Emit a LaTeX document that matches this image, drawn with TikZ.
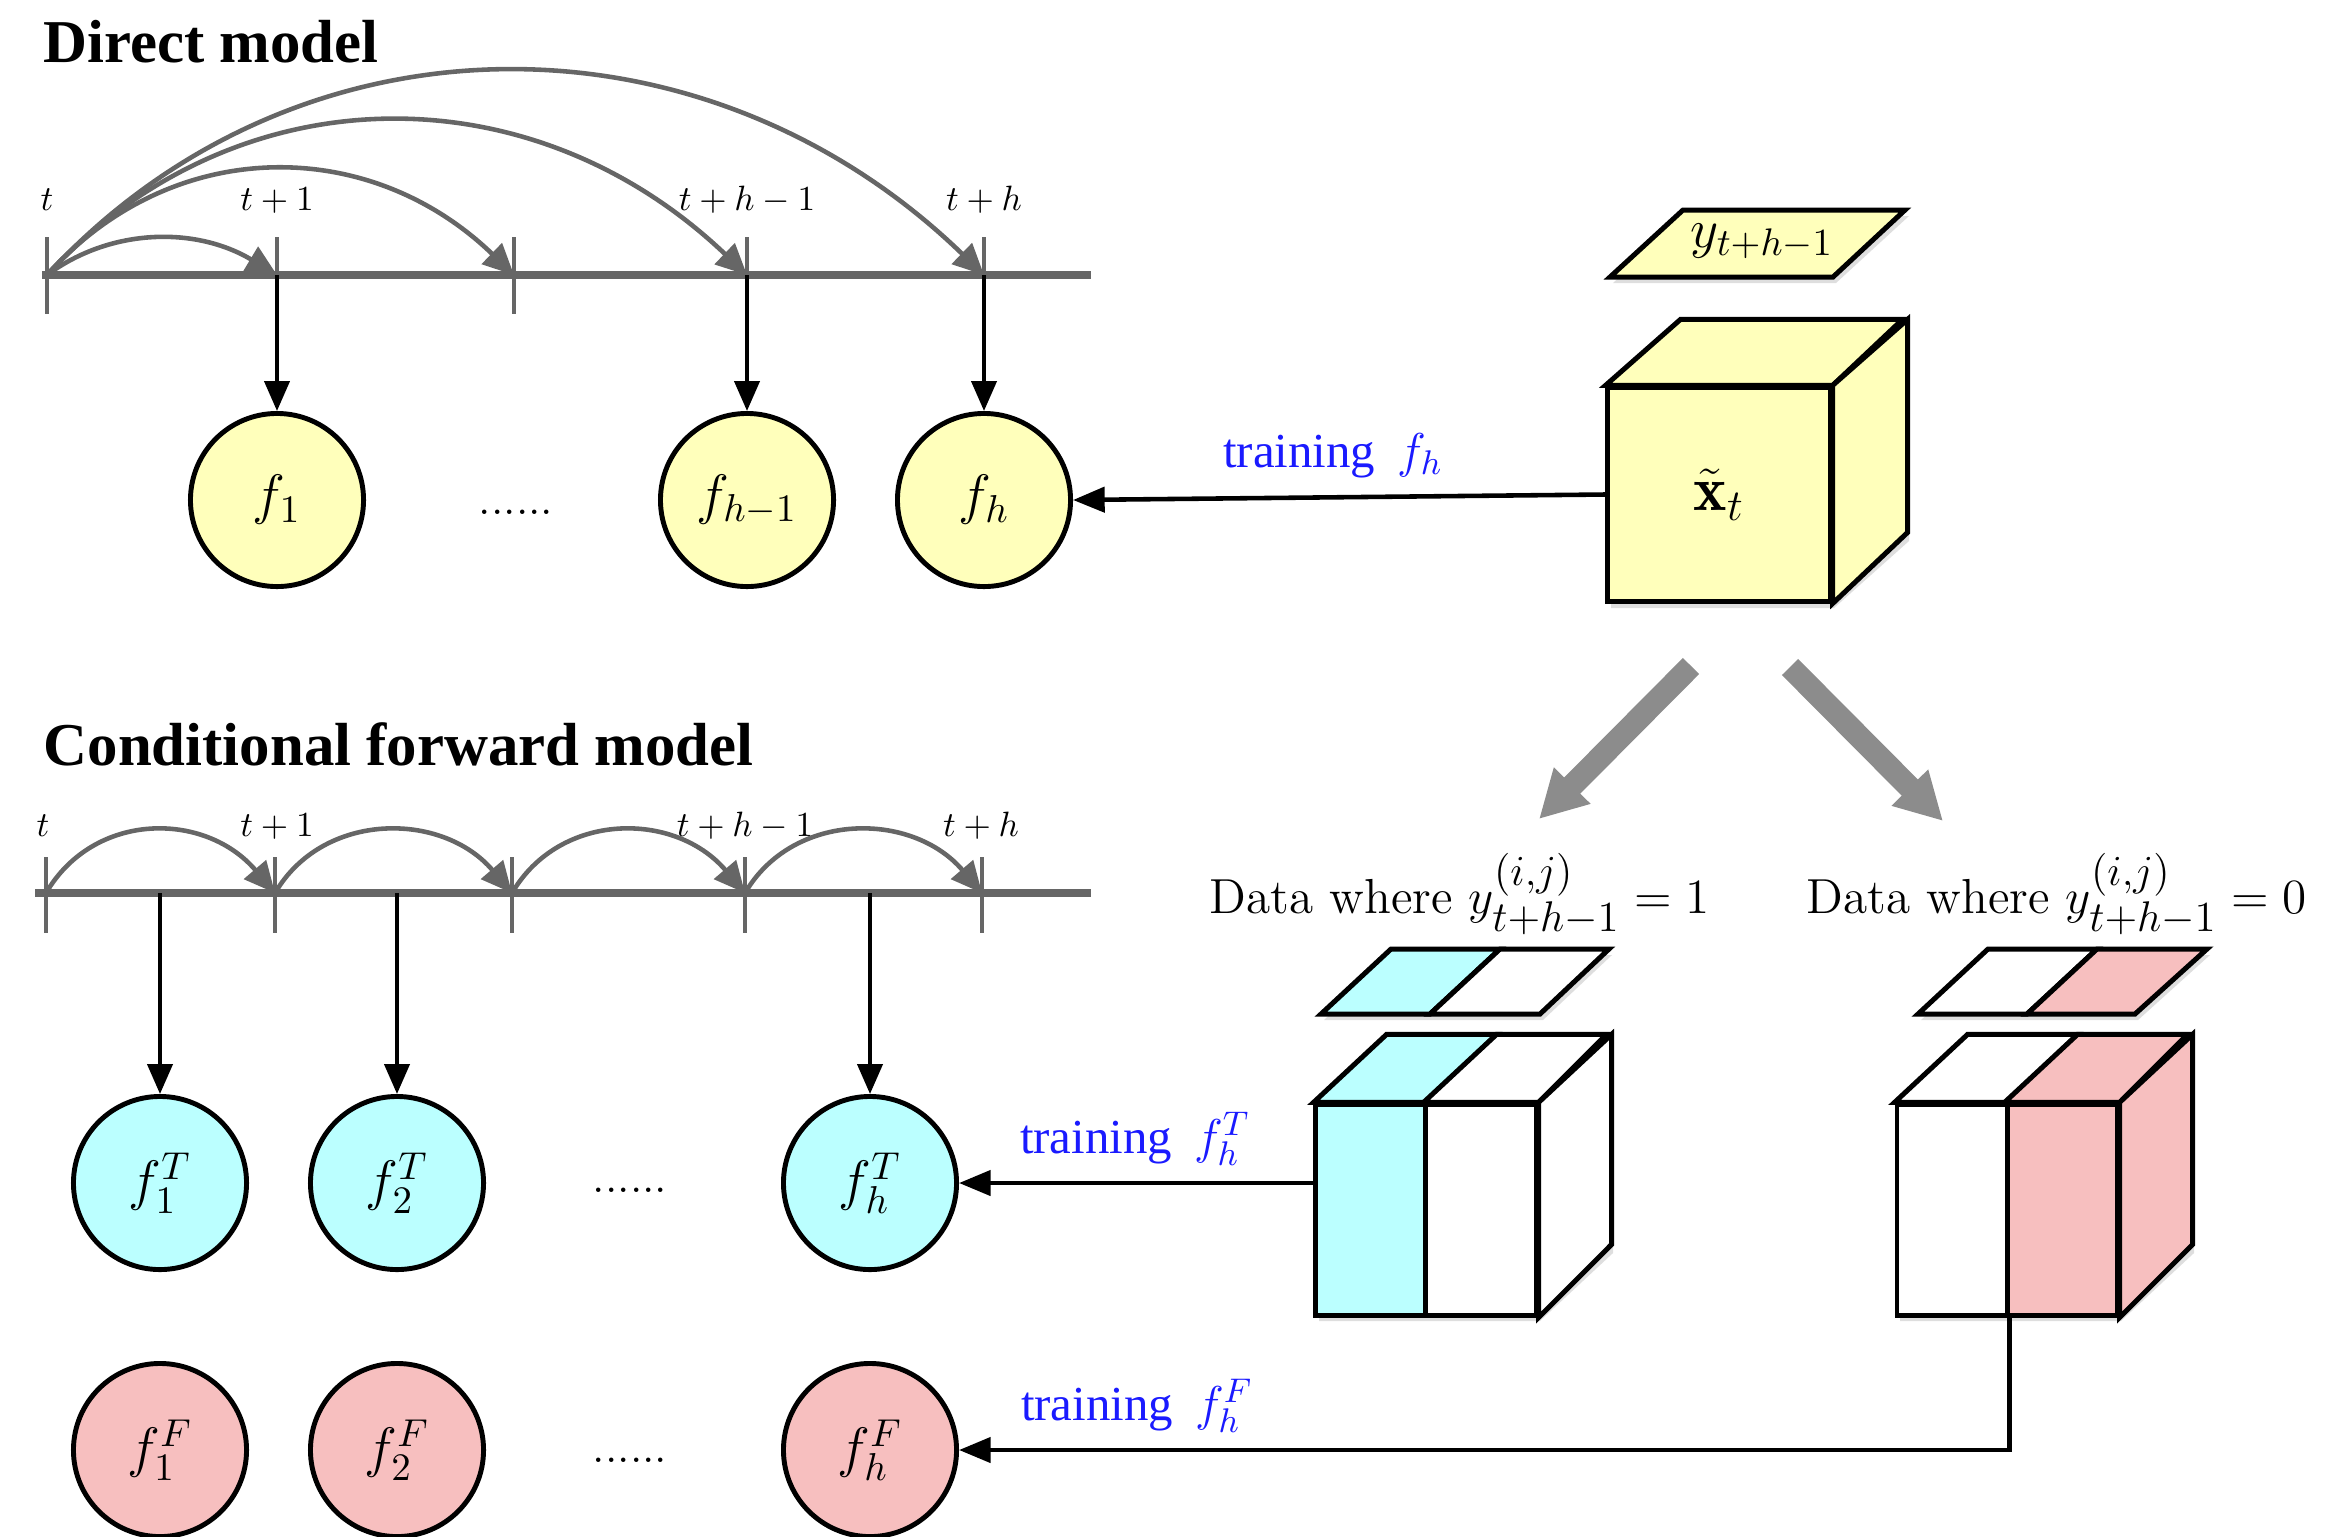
\RequirePackage{fix-cm}
\documentclass[tikz,border=0pt]{standalone}
\usepackage{fontspec}
\newfontfamily\timesfont{Liberation Serif}
\usetikzlibrary{arrows.meta}
\DeclareMathSizes{14}{14}{12.2}{9}
\definecolor{lgray}{HTML}{666666}
\definecolor{yel}{HTML}{FFFFBB}
\definecolor{cya}{HTML}{BBFFFF}
\definecolor{pnk}{HTML}{F7BFBF}
\definecolor{bgray}{HTML}{8C8C8C}
\definecolor{tblue}{HTML}{1A1AFF}
\begin{document}
\begin{tikzpicture}[x=0.01cm,y=-0.01cm,
  title/.style={font={\timesfont\bfseries\fontsize{17.3pt}{20pt}\selectfont}, anchor=base west, inner sep=0},
  tlab/.style={font={\fontsize{10pt}{12pt}\selectfont}, anchor=base, inner sep=0},
  axisline/.style={lgray, line width=2.1pt},
  tickline/.style={lgray, line width=1.1pt},
  hop/.style={lgray, line width=1.3pt, -{Triangle[length=8.8pt,width=8.1pt]}},
  down/.style={black, line width=1.15pt, -{Triangle[length=8.5pt,width=7.1pt]}},
  train/.style={black, line width=1.3pt, -{Triangle[length=9pt,width=7.1pt]}},
  fnode/.style={circle, draw=black, line width=1.4pt, minimum size=1.73cm, inner sep=0, font={\fontsize{15.8pt}{18pt}\selectfont}},
  dotsl/.style={font={\fontsize{13pt}{15pt}\selectfont}, anchor=base, inner sep=0},
  face/.style={draw=black, line width=1.42pt},
  half/.style={draw=black, line width=1.42pt, minimum width=1.10cm, minimum height=2.10cm, inner sep=0},
  shadowp/.style={fill=black, opacity=0.13},
  big/.style={bgray, line width=6.5pt, -{Triangle[length=13.4pt,width=13.7pt]}},
  tl/.style={text=tblue, font={\timesfont\fontsize{13.9pt}{16pt}\selectfont}, anchor=base, inner sep=0},
  dlab/.style={font={\fontsize{14pt}{17pt}\selectfont}, anchor=base west, inner sep=0},
]
\useasboundingbox (0,0) rectangle (2325,1536);
\clip (0,0) rectangle (2325,1536);

% ---------------- Direct model ----------------
\node[title] (t1) at (43,62) {Direct model};
\coordinate (a0) at (47,275);
\coordinate (a1) at (277,275);
\coordinate (a2) at (514,275);
\coordinate (a3) at (747,275);
\coordinate (a4) at (984,275);
\draw[axisline] (42,275) -- (1091,275);
\foreach \x in {47,277,514,747,984} \draw[tickline] (\x,237) -- (\x,314);
\node[tlab] (la0) at (47,210) {$t$};
\node[tlab] (la1) at (277,210) {$t+1$};
\node[tlab] (la3) at (747,210) {$t+h-1$};
\node[tlab] (la4) at (984,210) {$t+h$};
\draw[hop] (a0) .. controls +(65,-48) and +(-80,-48) .. (a1);
\draw[hop] (a0) .. controls +(125,-140) and +(-145,-140) .. (a2);
\draw[hop] (a0) .. controls +(190,-205) and +(-215,-205) .. (a3);
\draw[hop] (a0) .. controls +(250,-271) and +(-280,-271) .. (a4);

\node[fnode, fill=yel] (f1) at (277,500) {$f_1$};
\node[fnode, fill=yel] (fhm) at (747,500) {$f_{h-1}$};
\node[fnode, fill=yel] (fh) at (984,500) {$f_h$};
\node[dotsl] (dots1) at (516,514) {......};
\draw[down] (a1) -- (f1.north);
\draw[down] (a3) -- (fhm.north);
\draw[down] (a4) -- (fh.north);

% ---------------- main cube ----------------
\fill[shadowp] (1611,394) -- (1686,328) -- (1909,328) -- (1909,541) -- (1834,608) -- (1611,608) -- cycle;
\fill[shadowp] (1613,283) -- (1686,216) -- (1909,216) -- (1836,283) -- cycle;
\draw[face, fill=yel] (1610,277) -- (1683,210) -- (1905,210) -- (1833,277) -- cycle;
\node[inner sep=0, font={\fontsize{15.6pt}{18pt}\selectfont}] (ylab) at (1762,241) {$y_{t+h-1}$};
\node[face, fill=yel, minimum width=2.22cm, minimum height=2.13cm, inner sep=0, font={\fontsize{18pt}{21pt}\selectfont}] (cube) at (1719,494.5) {$\tilde{\mathbf{x}}_t$};
\draw[face, fill=yel] (cube.north west) -- ++(75,-66) -- ++(222,0) -- (cube.north east) -- cycle;
\draw[face, fill=yel] (cube.north east) -- ++(75,-66) -- ++(0,213) -- (cube.south east) -- cycle;

\draw[train] (cube.west) -- (fh.east);
\node[tl] (tr1) at (1333,467) {training\hspace{0.45em}$f_h$};

% big grey arrows
\coordinate (g1s) at (1691,666);
\coordinate (g1e) at (1539,819);
\coordinate (g2s) at (1790,667);
\coordinate (g2e) at (1943,821);
\draw[big] (g1s) -- (g1e);
\draw[big] (g2s) -- (g2e);

% ---------------- Conditional forward model ----------------
\node[title] (t2) at (43,765) {Conditional forward model};
\coordinate (b0) at (46,893);
\coordinate (b1) at (275,893);
\coordinate (b2) at (512,893);
\coordinate (b3) at (745,893);
\coordinate (b4) at (982,893);
\draw[axisline] (35,893) -- (1091,893);
\foreach \x in {46,275,512,745,982} \draw[tickline] (\x,857) -- (\x,933);
\node[tlab] (lb0) at (43,836) {$t$};
\node[tlab] (lb1) at (277,836) {$t+1$};
\node[tlab] (lb3) at (745,836) {$t+h-1$};
\node[tlab] (lb4) at (981,836) {$t+h$};
\draw[hop] (b0) .. controls +(48,-82) and +(-70,-82) .. (b1);
\draw[hop] (b1) .. controls +(48,-82) and +(-70,-82) .. (b2);
\draw[hop] (b2) .. controls +(48,-82) and +(-70,-82) .. (b3);
\draw[hop] (b3) .. controls +(48,-82) and +(-70,-82) .. (b4);

\node[fnode, fill=cya] (f1T) at (160,1183) {$f_1^T$};
\node[fnode, fill=cya] (f2T) at (397,1183) {$f_2^T$};
\node[fnode, fill=cya] (fhT) at (870,1183) {$f_h^T$};
\node[fnode, fill=pnk] (f1F) at (160,1450) {$f_1^F$};
\node[fnode, fill=pnk] (f2F) at (397,1450) {$f_2^F$};
\node[fnode, fill=pnk] (fhF) at (870,1450) {$f_h^F$};
\node[dotsl] (dots2) at (630,1192) {......};
\node[dotsl] (dots3) at (630,1462) {......};
\coordinate (m1) at (160,893);
\coordinate (m2) at (397,893);
\coordinate (m3) at (870,893);
\draw[down] (m1) -- (f1T.north);
\draw[down] (m2) -- (f2T.north);
\draw[down] (m3) -- (fhT.north);

% ---------------- data labels ----------------
\node[dlab] (d1) at (1209,913) {Data where $y^{(i,j)}_{t+h-1}=1$};
\node[dlab] (d0) at (1806,913) {Data where $y^{(i,j)}_{t+h-1}=0$};

% ---------------- left data cube (y=1) ----------------
\fill[shadowp] (1324,1020) -- (1394,955) -- (1612,955) -- (1543,1020) -- cycle;
\draw[face, fill=cya] (1321,1014) -- (1391,949) -- (1500,949) -- (1430,1014) -- cycle;
\draw[face, fill=white] (1430,1014) -- (1500,949) -- (1609,949) -- (1540,1014) -- cycle;
\fill[shadowp] (1319,1111) -- (1392,1043) -- (1613,1043) -- (1613,1253) -- (1540,1321) -- (1319,1321) -- cycle;
\node[half, fill=cya] (lcL) at (1371,1210) {};
\node[half, fill=white] (lcR) at (1481,1210) {};
\draw[face, fill=cya] (lcL.north west) -- ++(73,-68) -- ++(110,0) -- (lcL.north east) -- cycle;
\draw[face, fill=white] (lcR.north west) -- ++(73,-68) -- ++(110,0) -- (lcR.north east) -- cycle;
\draw[face, fill=white] (lcR.north east) -- ++(73,-68) -- ++(0,210) -- (lcR.south east) -- cycle;

% ---------------- right data cube (y=0) ----------------
\fill[shadowp] (1921,1020) -- (1991,955) -- (2210,955) -- (2138,1020) -- cycle;
\draw[face, fill=white] (1918,1014) -- (1988,949) -- (2097,949) -- (2027,1014) -- cycle;
\draw[face, fill=pnk] (2027,1014) -- (2097,949) -- (2207,949) -- (2135,1014) -- cycle;
\fill[shadowp] (1900,1111) -- (1973,1043) -- (2194,1043) -- (2194,1253) -- (2121,1321) -- (1900,1321) -- cycle;
\node[half, fill=white] (rcL) at (1952,1210) {};
\node[half, fill=pnk] (rcR) at (2062,1210) {};
\draw[face, fill=white] (rcL.north west) -- ++(73,-68) -- ++(110,0) -- (rcL.north east) -- cycle;
\draw[face, fill=pnk] (rcR.north west) -- ++(73,-68) -- ++(110,0) -- (rcR.north east) -- cycle;
\draw[face, fill=pnk] (rcR.north east) -- ++(73,-68) -- ++(0,210) -- (rcR.south east) -- cycle;

% ---------------- training connectors ----------------
\draw[train] (lcL.west |- fhT.east) -- (fhT.east);
\node[tl] (tr2) at (1135,1153) {training\hspace{0.45em}$f_h^T$};
\draw[train] (rcL.south east) |- (fhF.east);
\node[tl] (tr3) at (1137,1420) {training\hspace{0.45em}$f_h^F$};
\end{tikzpicture}
\end{document}
